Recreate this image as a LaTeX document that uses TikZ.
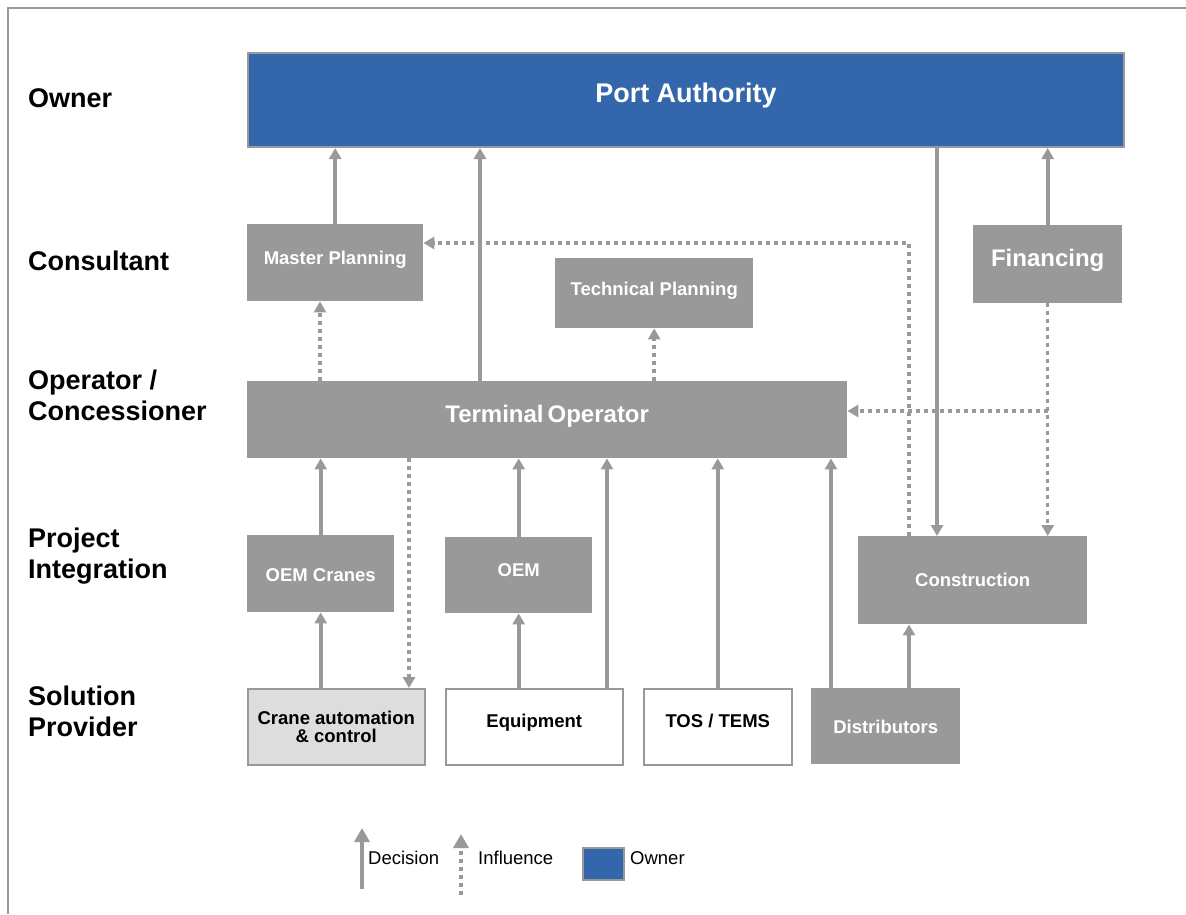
\documentclass[tikz,border=0pt]{standalone}
\usepackage{fontspec}
\setmainfont{Liberation Sans}
\usetikzlibrary{arrows.meta}

\definecolor{linegray}{RGB}{153,153,153}
\definecolor{ownerblue}{RGB}{51,102,170}
\definecolor{palegray}{RGB}{221,221,221}

\newcommand{\fntbig}{\fontsize{27}{31}\selectfont\bfseries}
\newcommand{\fntmid}{\fontsize{24}{28}\selectfont\bfseries}
\newcommand{\fntsmall}{\fontsize{18.5}{18.5}\selectfont\bfseries}
\newcommand{\fntlegend}{\fontsize{18.5}{22}\selectfont}

\tikzset{
  graybox/.style={rectangle, anchor=north west, inner sep=0pt, fill=linegray,
    text=white, font=\fntsmall, text height=13.2pt, text depth=0pt},
  midbox/.style={graybox, font=\fntmid, text height=17.2pt},
  whitebox/.style={graybox, fill=white, draw=linegray, line width=1.5pt, text=black},
  ownerbox/.style={graybox, fill=ownerblue, draw=linegray, line width=2pt,
    font=\fntbig, text height=19.3pt},
  level/.style={anchor=base west, align=left, font=\fntbig, inner sep=0pt},
  decision/.style={draw=linegray, line width=4pt, -{Triangle[width=12pt,length=11pt]}},
  influence/.style={decision, line width=3.5pt, dash pattern=on 4pt off 4pt},
  legendarrow/.style={draw=linegray, line width=4pt, -{Triangle[width=15pt,length=14pt]}},
  legendtext/.style={anchor=west, font=\fntlegend, inner sep=0pt,
    text height=13.2pt, text depth=0pt}
}

\begin{document}
\begin{tikzpicture}[x=1pt,y=-1pt]
  \useasboundingbox (0,0) rectangle (1186,914);

  % frame
  \draw[linegray, line width=2pt] (8,914) -- (8,7.5) -- (1186,7.5);

  % level labels (base anchor sits on the last line)
  \node[level] (lvowner) at (28,107.5) {Owner};
  \node[level] (lvcons)  at (28,270.5) {Consultant};
  \node[level] (lvoper)  at (28,420.5) {Operator /\\Concessioner};
  \node[level] (lvproj)  at (28,578.5) {Project\\Integration};
  \node[level] (lvsol)   at (28,736.5) {Solution\\Provider};

  % blocks
  \node[ownerbox, minimum width=876pt, minimum height=94pt, text depth=15pt]
    (pa) at (247,52) {Port Authority};
  \node[graybox, minimum width=176pt, minimum height=77pt, text depth=9pt]
    (mp) at (247,224) {Master Planning};
  \node[graybox, minimum width=198pt, minimum height=70pt, text depth=8pt]
    (tp) at (555,258) {Technical Planning};
  \node[midbox, minimum width=149pt, minimum height=78pt, text depth=13pt]
    (fin) at (973,225) {Financing};
  \node[midbox, minimum width=600pt, minimum height=77pt, text depth=11pt]
    (to) at (247,381) {Terminal\,Operator};
  \node[graybox, minimum width=147pt, minimum height=77pt, text height=16.2pt]
    (oemc) at (247,535) {OEM Cranes};
  \node[graybox, minimum width=147pt, minimum height=76pt, text depth=10pt]
    (oem) at (445,537) {OEM};
  \node[graybox, minimum width=229pt, minimum height=88pt]
    (con) at (858,536) {Construction};
  \node[whitebox, fill=palegray, minimum width=177pt, minimum height=76pt,
        text height={}, text depth={}, align=center]
    (crane) at (247,688) {Crane automation\\\& control};
  \node[whitebox, minimum width=177pt, minimum height=76pt, text depth=12pt]
    (eq) at (445,688) {Equipment};
  \node[whitebox, minimum width=148pt, minimum height=76pt, text depth=12pt]
    (tos) at (643,688) {TOS / TEMS};
  \node[graybox, minimum width=149pt, minimum height=76pt, text height=15.2pt]
    (dist) at (811,688) {Distributors};

  % connector columns and bends
  \coordinate (c320) at (320,0);
  \coordinate (c409) at (409,0);
  \coordinate (c480) at (480,0);
  \coordinate (c607) at (607,0);
  \coordinate (c831) at (831,0);
  \coordinate (c909) at (909,0);
  \coordinate (c937) at (937,0);
  \coordinate (bendmp) at (909,243);
  \coordinate (finjoin) at (1048,411);

  % decisions
  \draw[decision] (mp.north) -- (mp.north |- pa.south);
  \draw[decision] (c480 |- to.north) -- (c480 |- pa.south);
  \draw[decision] (c937 |- pa.south) -- (c937 |- con.north);
  \draw[decision] (fin.north) -- (fin.north |- pa.south);
  \draw[decision] (oemc.north) -- (oemc.north |- to.south);
  \draw[decision] (crane.north -| oemc.south) -- (oemc.south);
  \draw[decision] (oem.north) -- (oem.north |- to.south);
  \draw[decision] (eq.north -| oem.south) -- (oem.south);
  \draw[decision] (c607 |- eq.north) -- (c607 |- to.south);
  \draw[decision] (tos.north) -- (tos.north |- to.south);
  \draw[decision] (c831 |- dist.north) -- (c831 |- to.south);
  \draw[decision] (c909 |- dist.north) -- (c909 |- con.south);

  % influences
  \draw[influence] (con.north -| bendmp) -- (bendmp) -- (mp.east |- bendmp);
  \draw[influence] (fin.south) -- (fin.south |- con.north);
  \draw[influence] (finjoin) -- (to.east |- finjoin);
  \draw[influence] (c320 |- to.north) -- (c320 |- mp.south);
  \draw[influence] (tp.south |- to.north) -- (tp.south);
  \draw[influence] (c409 |- to.south) -- (c409 |- crane.north);

  % legend
  \coordinate (decfoot) at (362,889);
  \coordinate (dectip)  at (362,828);
  \coordinate (inffoot) at (461,895);
  \coordinate (inftip)  at (461,834);
  \draw[legendarrow] (decfoot) -- (dectip);
  \draw[legendarrow, line width=3.5pt, dash pattern=on 4pt off 4pt] (inffoot) -- (inftip);
  \node[legendtext] (legdec) at (368,858) {Decision};
  \node[legendtext] (leginf) at (478,858) {Influence};
  \node[rectangle, anchor=north west, inner sep=0pt, fill=ownerblue, draw=linegray,
        line width=1.5pt, minimum width=41pt, minimum height=32pt]
    (legsq) at (582,847) {};
  \node[legendtext] (legown) at (630,858) {Owner};
\end{tikzpicture}
\end{document}
